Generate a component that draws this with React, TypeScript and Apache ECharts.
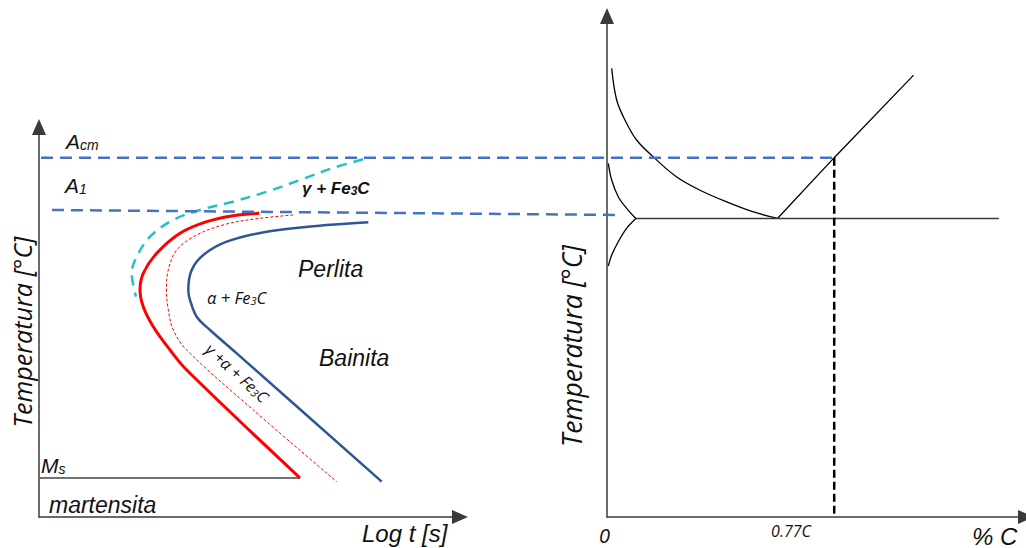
import React, { useEffect, useRef } from "react";
import * as echarts from "echarts";

// ---------- scales (abstract units) ----------
const T_MAX_RIGHT = 1220; // temperature axis top, right panel
const T_MAX_LEFT = 950; // temperature axis top, left panel
const LOGT_MAX = 100; // log t axis (arbitrary units)
const C_MAX = 1.42; // % C axis
const GUIDE_C_MIN = -1.95; // guide-line overlay reaches left over the TTT panel (in %C units)

// ---------- characteristic temperatures ----------
const T_MS = 95;
const T_EUTECTOID = 727;
const T_ACM = 875;
const C_077 = 0.77;

// ---------- TTT diagram curves: [log t, T] ----------
const CYAN_CURVE = [
  [76.96, 871.0], [69.83, 849.8], [62.0, 820.6], [54.09, 792.1], [46.08, 767.8],
  [38.24, 747.6], [31.83, 723.2], [26.37, 682.6], [23.21, 633.9], [22.02, 594.2],
  [23.04, 536.5],
];
const RED_CURVE = [
  [52.33, 739.5], [46.15, 733.7], [39.83, 719.1], [33.49, 690.8], [27.96, 642.1],
  [24.77, 593.4], [23.99, 552.8], [24.77, 512.1], [27.15, 463.4], [31.12, 406.7],
  [35.08, 358.0], [62.0, T_MS],
];
const RED_DASHED_CURVE = [
  [60.4, 735.4], [52.49, 727.4], [44.58, 713.5], [37.46, 686.7], [32.71, 650.2],
  [30.71, 601.5], [30.28, 552.8], [30.64, 508.9], [31.9, 455.4], [35.08, 406.7],
  [50.9, 260.6], [70.71, 86.0],
];
const BLUE_CURVE = [
  [78.22, 717.6], [65.96, 708.6], [54.09, 694.7], [44.58, 670.4], [39.03, 638.0],
  [36.27, 601.5], [35.46, 552.8], [35.87, 528.4], [37.46, 487.7], [40.62, 455.4],
  [46.96, 398.6], [81.4, 86.0],
];
const MS_LINE = [[0.2, T_MS], [62.0, T_MS]];

// ---------- Fe–C diagram lines: [%C, T] ----------
const A3_CURVE = [
  [0.0159, 1092.6], [0.0327, 1015.4], [0.0607, 966.7], [0.1002, 918.0], [0.1619, 873.5],
  [0.2351, 828.7], [0.3137, 796.3], [0.4037, 767.8], [0.4934, 743.4], [0.5777, T_EUTECTOID],
];
const ACM_SOLVUS = [[0.5777, T_EUTECTOID], [C_077, T_ACM], [1.039, 1076]];
const EUTECTOID_LINE = [[0.0978, T_EUTECTOID], [1.328, T_EUTECTOID]];
const UPPER_SMALL_CURVE = [[0.0044, 861.3], [0.0159, 820.6], [0.0381, 780.0], [0.0664, 751.7], [0.0978, T_EUTECTOID]];
const LOWER_SMALL_CURVE = [[0.0978, T_EUTECTOID], [0.0664, 703.0], [0.0381, 670.4], [0.0159, 638.0], [0.0044, 611.3]];
const C077_DROP = [[C_077, T_ACM], [C_077, 0]];

// guide lines (in %C / T units of an overlay that spans both panels)
const ACM_GUIDE = [[-1.909, T_ACM], [C_077, T_ACM]];
const A1_GUIDE = [[-1.872, 747.6], [0.054, 735.4]];

// ---------- layout ----------
const AXIS_BOTTOM_PX = 517;
const RIGHT_LEFT_PX = 607;
const RIGHT_WIDTH_PX = 421;
const PX_PER_DEG = 501 / T_MAX_RIGHT;
const PX_PER_PCT = RIGHT_WIDTH_PX / C_MAX;

const ARIAL = "'Liberation Sans', Arial, sans-serif";
const CALI = "'Open Sans', 'Noto Sans', sans-serif";

export default function App() {
  const ref = useRef<HTMLDivElement>(null);

  useEffect(() => {
    if (!ref.current) return;
    const chart = echarts.init(ref.current, undefined, { renderer: "svg" });

    const axisStyle = {
      axisLine: {
        show: true,
        onZero: false,
        symbol: ["none", "triangle"],
        symbolSize: [14, 16],
        lineStyle: { color: "#3a3a3a", width: 1.5 },
      },
      axisTick: { show: false },
      axisLabel: { show: false },
      splitLine: { show: false },
    };
    const hiddenAxis = { show: false, axisLine: { show: false }, axisTick: { show: false }, axisLabel: { show: false }, splitLine: { show: false } };

    const leftH = T_MAX_LEFT * PX_PER_DEG;
    const rightH = T_MAX_RIGHT * PX_PER_DEG;

    const ln = (data: number[][], g: number, color: string, width: number, type: any, smooth: number | boolean, z = 2) => ({
      type: "line",
      data,
      xAxisIndex: g,
      yAxisIndex: g,
      symbol: "none",
      showSymbol: false,
      smooth,
      clip: false,
      silent: true,
      z,
      lineStyle: { color, width, type },
    });

    const tok = (size: number, family: string, extra: any = {}) => ({
      fontSize: size, fontStyle: "italic", fontFamily: family, fill: "#111", ...extra,
    });
    const subRich = (size: number, subSize: number, family: string, extra: any = {}) => ({
      n: tok(size, family, extra),
      s: tok(subSize, family, { verticalAlign: "bottom", ...extra }),
    });

    const txt = (text: string, x: number, y: number, size: number, family: string, rich?: any, rotation = 0, align = "left", extra: any = {}) => ({
      type: "text",
      x,
      y,
      rotation,
      silent: true,
      z: 100,
      style: {
        text,
        fill: "#111",
        fontSize: size,
        fontStyle: "italic",
        fontFamily: family,
        textAlign: align,
        textVerticalAlign: "middle",
        rich,
        ...extra,
      },
    });

    chart.setOption({
      animation: false,
      backgroundColor: "#ffffff",
      grid: [
        { left: 39, top: AXIS_BOTTOM_PX - leftH, width: 421, height: leftH },
        { left: RIGHT_LEFT_PX, top: AXIS_BOTTOM_PX - rightH, width: RIGHT_WIDTH_PX, height: rightH },
        {
          left: RIGHT_LEFT_PX + GUIDE_C_MIN * PX_PER_PCT,
          top: AXIS_BOTTOM_PX - rightH,
          width: (C_MAX - GUIDE_C_MIN) * PX_PER_PCT,
          height: rightH,
        },
      ],
      xAxis: [
        { type: "value", gridIndex: 0, min: 0, max: LOGT_MAX, ...axisStyle },
        { type: "value", gridIndex: 1, min: 0, max: C_MAX, ...axisStyle },
        { type: "value", gridIndex: 2, min: GUIDE_C_MIN, max: C_MAX, ...hiddenAxis },
      ],
      yAxis: [
        { type: "value", gridIndex: 0, min: 0, max: T_MAX_LEFT, ...axisStyle },
        { type: "value", gridIndex: 1, min: 0, max: T_MAX_RIGHT, ...axisStyle },
        { type: "value", gridIndex: 2, min: 0, max: T_MAX_RIGHT, ...hiddenAxis },
      ],
      series: [
        ln(MS_LINE, 0, "#444444", 1.5, "solid", false),
        ln(CYAN_CURVE, 0, "#22C1C3", 2.5, [10, 7], 0.35),
        ln(RED_CURVE, 0, "#FF0000", 3, "solid", 0.35),
        ln(RED_DASHED_CURVE, 0, "#FF0000", 1, [3, 2], 0.35),
        ln(BLUE_CURVE, 0, "#2F5597", 2.5, "solid", 0.35),
        ln(A3_CURVE, 1, "#000000", 1.3, "solid", 0.35),
        ln(ACM_SOLVUS, 1, "#000000", 1.3, "solid", false),
        ln(EUTECTOID_LINE, 1, "#3a3a3a", 1.5, "solid", false),
        ln(UPPER_SMALL_CURVE, 1, "#000000", 1.3, "solid", 0.35),
        ln(LOWER_SMALL_CURVE, 1, "#000000", 1.3, "solid", 0.35),
        ln(C077_DROP, 1, "#000000", 2.5, [8, 4], false),
        ln(ACM_GUIDE, 2, "#4472C4", 2.5, [12, 7], false, 3),
        ln(A1_GUIDE, 2, "#4472C4", 2.5, [12, 7], false, 3),
      ],
      graphic: [
        txt("{n|A}{s|cm}", 66, 141, 21, ARIAL, subRich(21, 14, ARIAL)),
        txt("{n|A}{s|1}", 65, 185, 21, ARIAL, subRich(21, 14, ARIAL)),
        txt("{n|γ + Fe}{s|3}{n|C}", 302, 188, 17, ARIAL, subRich(17, 12, ARIAL, { fontWeight: "bold" }), 0, "left", { fontWeight: "bold" }),
        txt("Perlita", 298, 269, 23, ARIAL),
        txt("{n|α + Fe}{s|3}{n|C}", 207, 297, 16.5, CALI, subRich(16.5, 11, CALI)),
        txt("Bainita", 319, 358, 23, ARIAL),
        txt("{n|γ +α + Fe}{s|3}{n|C}", 237, 373, 16, CALI, subRich(16, 11, CALI), -0.74, "center"),
        txt("{n|M}{s|s}", 41, 465, 21, ARIAL, subRich(21, 14, ARIAL)),
        txt("martensita", 49, 505, 23, ARIAL),
        txt("Log t [s]", 362, 533, 24, ARIAL),
        txt("Temperatura [°C]", 22, 332, 25, CALI, undefined, Math.PI / 2, "center"),
        txt("Temperatura [°C]", 572, 346, 26.5, CALI, undefined, Math.PI / 2, "center"),
        txt("0", 599, 535, 20, CALI),
        txt("0.77C", 791, 531, 16, CALI, undefined, 0, "center"),
        txt("% C", 972, 536, 24, ARIAL),
      ],
    });

    return () => chart.dispose();
  }, []);

  return (
    <div
      ref={ref}
      style={{ position: "fixed", left: 0, top: 0, width: 1026, height: 548, background: "#fff" }}
    />
  );
}
